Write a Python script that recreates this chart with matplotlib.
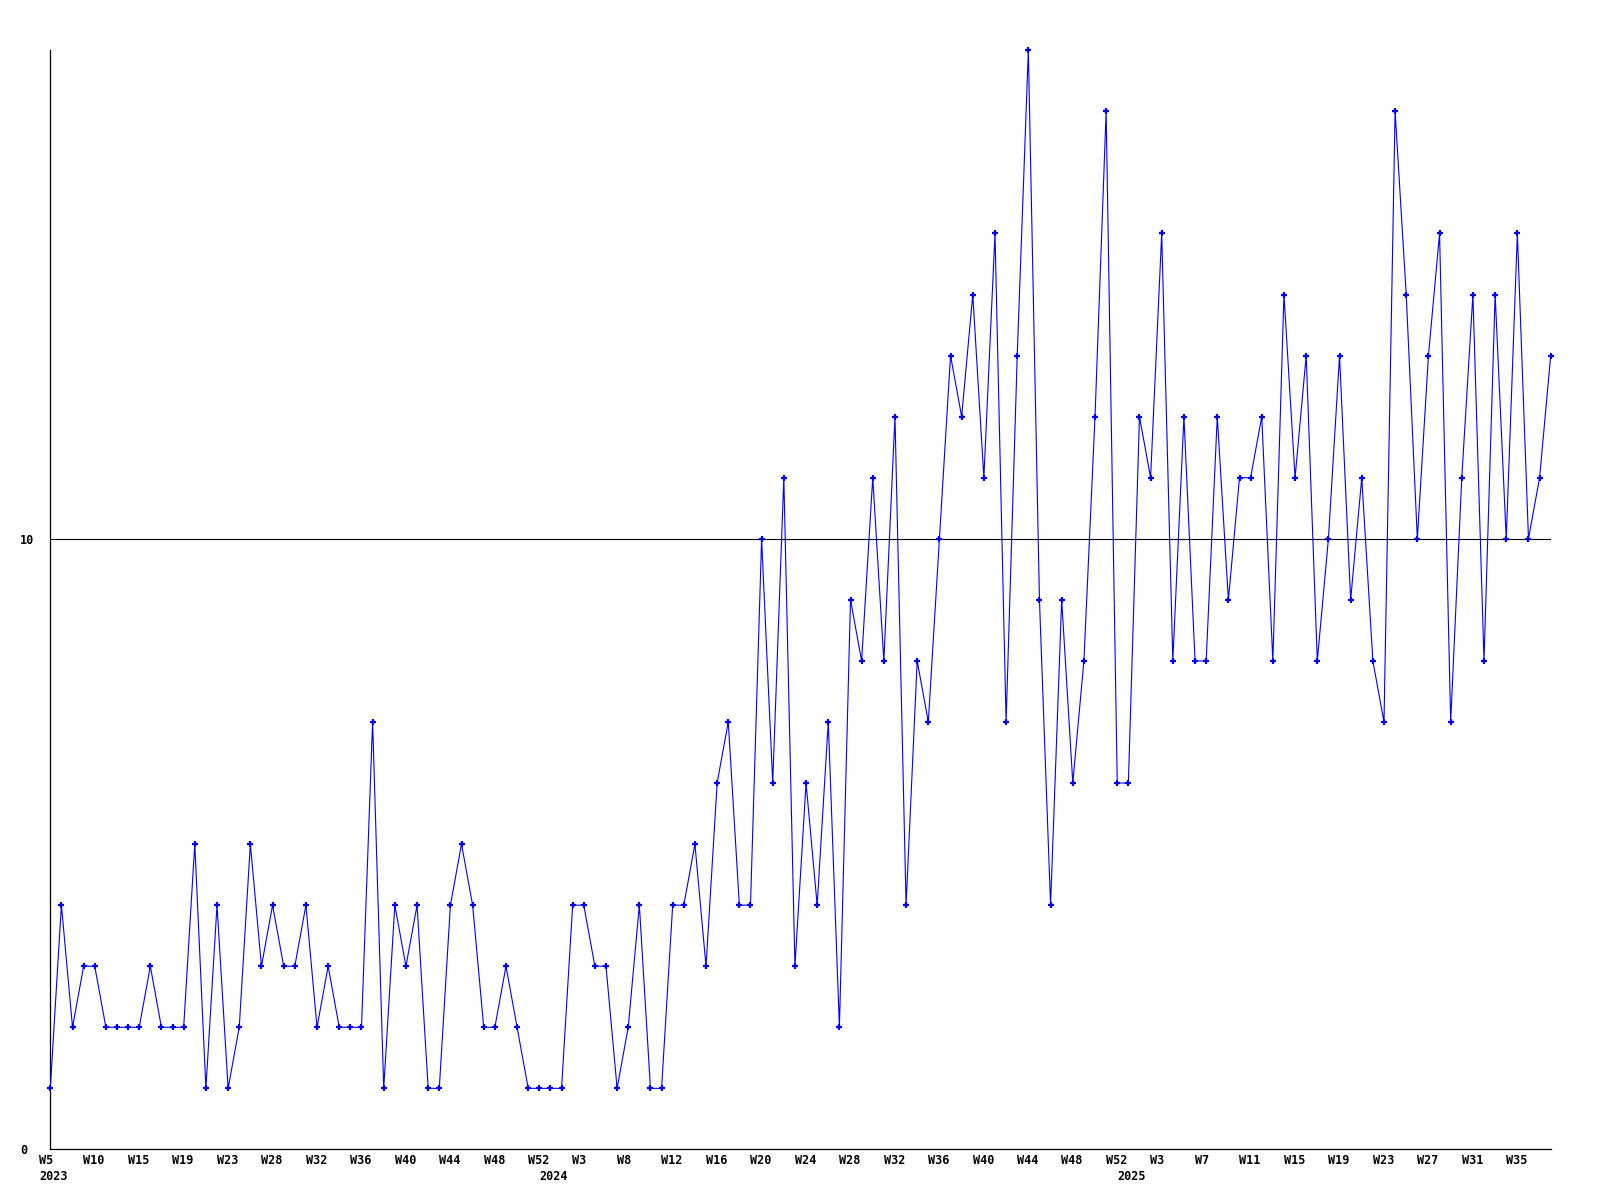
import matplotlib
matplotlib.use("Agg")
import matplotlib.pyplot as plt
from matplotlib.transforms import ScaledTranslation

# weekly counts, 2023 W5 .. 2025 W38
values = [
    1, 4, 2, 3, 3, 2, 2, 2, 2, 3, 2, 2, 2, 5, 1, 4, 1, 2, 5, 3,
    4, 3, 3, 4, 2, 3, 2, 2, 2, 7, 1, 4, 3, 4, 1, 1, 4, 5, 4, 2,
    2, 3, 2, 1, 1, 1, 1, 4, 4, 3, 3, 1, 2, 4, 1, 1, 4, 4, 5, 3,
    6, 7, 4, 4, 10, 6, 11, 3, 6, 4, 7, 2, 9, 8, 11, 8, 12, 4, 8, 7,
    10, 13, 12, 14, 11, 15, 7, 13, 18, 9, 4, 9, 6, 8, 12, 17, 6, 6, 12, 11,
    15, 8, 12, 8, 8, 12, 9, 11, 11, 12, 8, 14, 11, 13, 8, 10, 13, 9, 11, 8,
    7, 17, 14, 10, 13, 15, 7, 11, 14, 8, 14, 10, 15, 10, 11, 13,
]

week_labels = [
    "W5", "W10", "W15", "W19", "W23", "W28", "W32", "W36", "W40", "W44", "W48", "W52",
    "W3", "W8", "W12", "W16", "W20", "W24", "W28", "W32", "W36", "W40", "W44", "W48", "W52",
    "W3", "W7", "W11", "W15", "W19", "W23", "W27", "W31", "W35",
]
tick_step = 4

years = ["2023", "2024", "2025"]
year_pos = [0, 45, 97]

y_ticks = [0, 10]
y_max = 18

FONT = "DejaVu Sans Mono"
FS = 8.5

fig = plt.figure(figsize=(16, 12), dpi=100)
ax = fig.add_axes([50.3 / 1600, 50.6 / 1200, 1500.4 / 1600, 1099.1 / 1200])

x = list(range(len(values)))
ax.axhline(10, color="black", lw=0.8, zorder=1)
ax.plot(x, values, color="#0000ff", lw=0.8, marker="+", ms=4, mew=1.6,
        zorder=3, clip_on=False)

ax.set_xlim(0, len(values) - 1)
ax.set_ylim(0, y_max)

for side in ["top", "right"]:
    ax.spines[side].set_visible(False)
for side in ["left", "bottom"]:
    ax.spines[side].set_color("black")
    ax.spines[side].set_linewidth(0.9)

ax.set_yticks(y_ticks)
ax.set_yticklabels([str(v) for v in y_ticks], fontfamily=FONT, fontsize=FS,
                   fontweight="bold", ha="left")
ax.tick_params(axis="y", length=0, pad=21.8)

ticks = list(range(0, len(week_labels) * tick_step, tick_step))
ax.set_xticks(ticks)
ax.set_xticklabels(week_labels, fontfamily=FONT, fontsize=FS, fontweight="bold")
ax.tick_params(axis="x", length=0, pad=3)
shift = ScaledTranslation(-11.3 / 100, 0, fig.dpi_scale_trans)
for lab in ax.get_xticklabels():
    lab.set_ha("left")
    lab.set_transform(lab.get_transform() + shift)

for yr, pos in zip(years, year_pos):
    ax.annotate(yr, xy=(pos, 0), xycoords=("data", "axes fraction"),
                xytext=(-11.3, -27), textcoords="offset pixels",
                ha="left", va="center", fontfamily=FONT, fontsize=FS,
                fontweight="bold")

fig.savefig("out.png", dpi=100, facecolor="white")
